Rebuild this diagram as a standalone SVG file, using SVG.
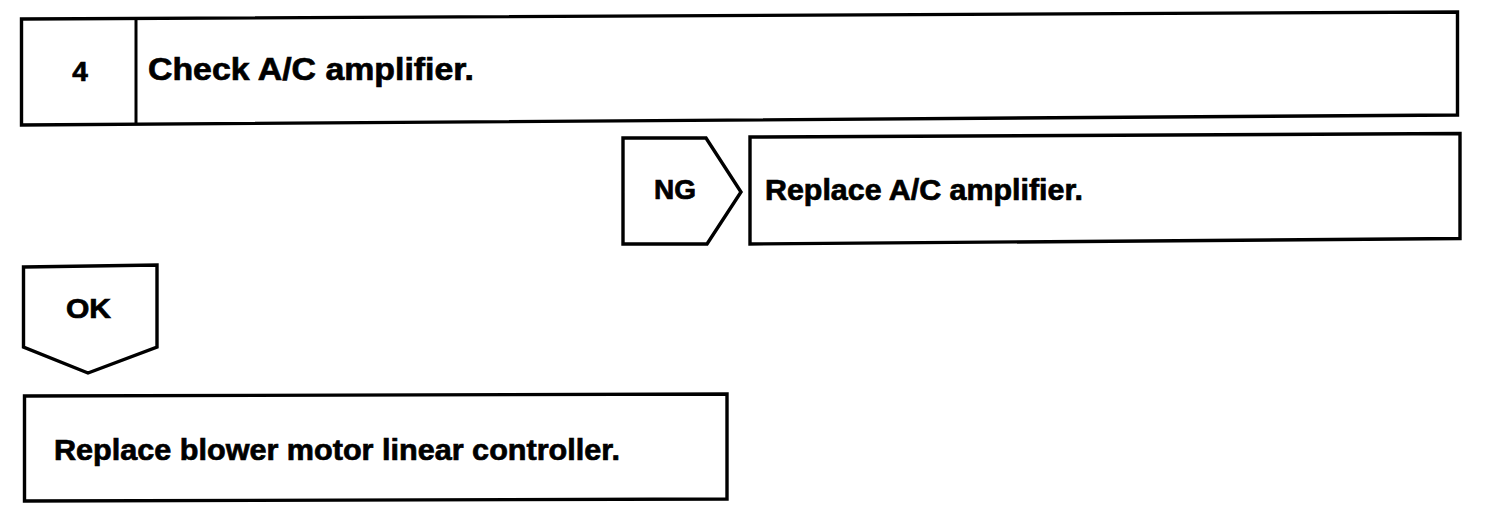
<svg xmlns="http://www.w3.org/2000/svg" width="1504" height="522" viewBox="0 0 1504 522">
<style>
.box{fill:#fff;stroke:#000;stroke-width:3.4;stroke-linejoin:miter}
.t{font-family:"Liberation Sans",Arial,sans-serif;font-weight:bold;fill:#000;stroke:#000;stroke-width:0.7}
</style>
<rect width="1504" height="522" fill="#fff"/>
<g id="step4">
<polygon class="box" points="21.5,19 1457.5,12 1457.5,115 21.5,125"/>
<line x1="136" y1="18" x2="136" y2="124" stroke="#000" stroke-width="3"/>
<text class="t" x="80" y="81" font-size="28" text-anchor="middle">4</text>
<text class="t" x="148" y="80" font-size="32" textLength="326" lengthAdjust="spacingAndGlyphs">Check A/C amplifier.</text>
</g>
<g id="connectors">
<g id="ng">
<polygon class="box" points="623,138 706,138 741,192 707,244 623,244"/>
<text class="t" x="654" y="199" font-size="27" textLength="42" lengthAdjust="spacingAndGlyphs">NG</text>
</g>
<g id="ok">
<polygon class="box" points="23.5,267 157,265 157,347 88,373 23.5,347"/>
<text class="t" x="66" y="318" font-size="27" textLength="45" lengthAdjust="spacingAndGlyphs">OK</text>
</g>
</g>
<g id="replace-amp">
<polygon class="box" points="750,137 1460,133.5 1460,238.5 750,244"/>
<text class="t" x="765" y="200" font-size="29" textLength="318" lengthAdjust="spacingAndGlyphs">Replace A/C amplifier.</text>
</g>
<g id="replace-blower">
<polygon class="box" points="24.5,396 727,394 727,499 24.5,501"/>
<text class="t" x="54" y="460" font-size="29" textLength="566" lengthAdjust="spacingAndGlyphs">Replace blower motor linear controller.</text>
</g>
</svg>
